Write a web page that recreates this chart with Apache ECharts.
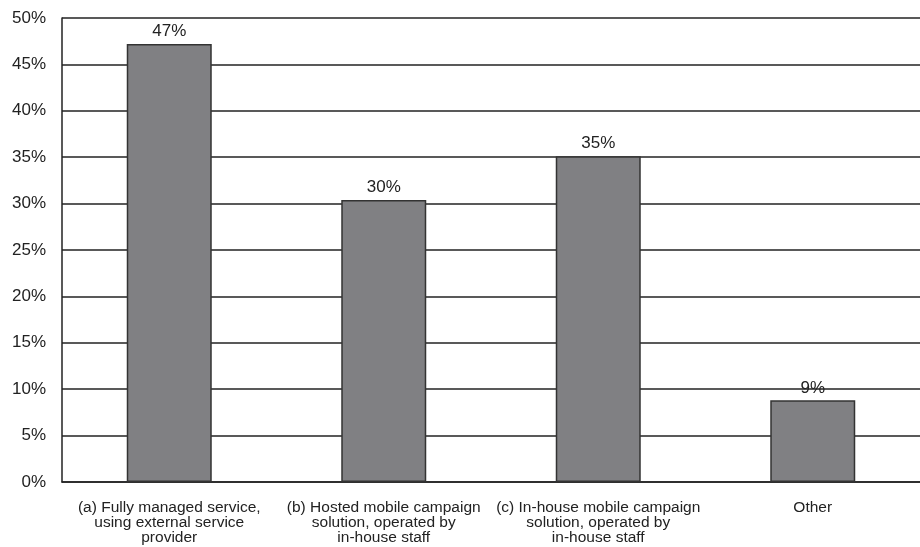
<!DOCTYPE html>
<html lang="en" style="height: 100%">

<head>
    <meta charset="UTF-8">
    <title>Document</title>
    <script type="text/javascript" src="https://cdn.jsdelivr.net/npm/echarts@6/dist/echarts.min.js"></script>
</head>

<body style="height: 100%; margin: 0; background: #fff">
    <div id="container" style="width: 920px; height: 547px"></div>
    <script type="text/javascript">
    var categories = [
        '(a) Fully managed service,\nusing external service\nprovider',
        '(b) Hosted mobile campaign\nsolution, operated by\nin-house staff',
        '(c) In-house mobile campaign\nsolution, operated by\nin-house staff',
        'Other'
    ];
    var values = [47.2, 30.4, 35.1, 8.8];

    var myChart = echarts.init(document.getElementById('container'));

    var option = {
        animation: false,
        backgroundColor: '#fff',
        grid: {
            left: 62,
            right: 0,
            top: 18,
            bottom: 65
        },
        xAxis: {
            type: 'category',
            data: categories,
            axisTick: { show: false },
            axisLine: { lineStyle: { color: '#222', width: 1.5 } },
            axisLabel: {
                interval: 0,
                color: '#222',
                fontFamily: 'Liberation Sans, Arial',
                fontSize: 15.5,
                lineHeight: 15,
                margin: 18
            }
        },
        yAxis: {
            type: 'value',
            min: 0,
            max: 50,
            interval: 5,
            axisLine: { show: true, lineStyle: { color: '#222', width: 1.5 } },
            axisTick: { show: false },
            axisLabel: {
                formatter: '{value}%',
                color: '#222',
                fontFamily: 'Liberation Sans, Arial',
                fontSize: 17,
                margin: 16
            },
            splitLine: { lineStyle: { color: '#222', width: 1.5 } }
        },
        series: [{
            type: 'bar',
            data: values,
            barWidth: 85,
            itemStyle: {
                color: '#808083',
                borderColor: '#333',
                borderWidth: 1.5
            },
            label: {
                show: true,
                position: 'top',
                distance: 4,
                color: '#222',
                fontFamily: 'Liberation Sans, Arial',
                fontSize: 17,
                formatter: function (p) {
                    return Math.round(p.value) + '%';
                }
            }
        }]
    };

    myChart.setOption(option);
    </script>
</body>

</html>
